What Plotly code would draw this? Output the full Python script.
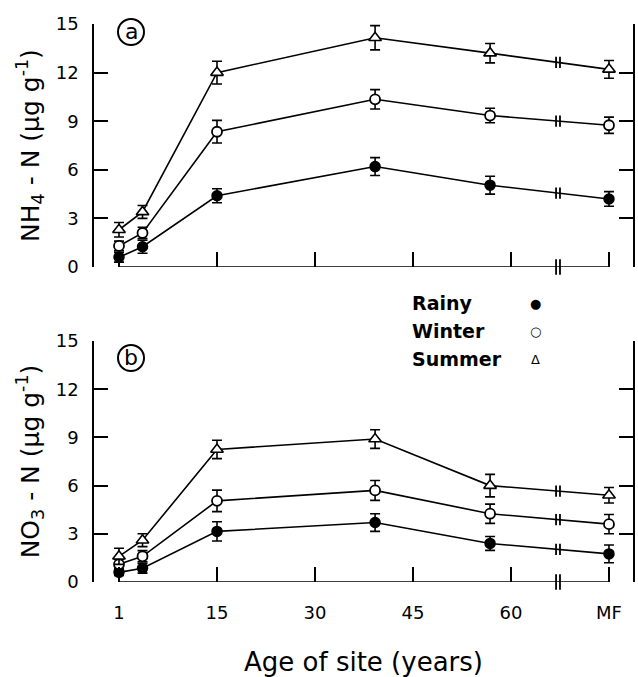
import numpy as np
import plotly.graph_objects as go
from plotly.subplots import make_subplots

# ---------------- data ----------------
site_x = [0, 3.6, 15, 39.2, 56.8, 75]           # plotting positions of sites
tick_vals = [0, 15, 30, 45, 60, 75]
tick_text = ["1", "15", "30", "45", "60", "MF"]
BREAK_X = 67.2

nh4_rainy = [0.6, 1.25, 4.4, 6.2, 5.05, 4.2]
nh4_rainy_err = [0.3, 0.4, 0.43, 0.55, 0.55, 0.45]
nh4_winter = [1.3, 2.1, 8.35, 10.35, 9.35, 8.75]
nh4_winter_err = [0.3, 0.35, 0.7, 0.6, 0.45, 0.5]
nh4_summer = [2.3, 3.4, 12.0, 14.15, 13.2, 12.2]
nh4_summer_err = [0.45, 0.4, 0.7, 0.75, 0.6, 0.55]

no3_rainy = [0.6, 0.85, 3.15, 3.7, 2.4, 1.75]
no3_rainy_err = [0.2, 0.3, 0.6, 0.55, 0.43, 0.55]
no3_winter = [1.1, 1.6, 5.05, 5.7, 4.25, 3.6]
no3_winter_err = [0.3, 0.35, 0.67, 0.62, 0.6, 0.6]
no3_summer = [1.6, 2.6, 8.25, 8.9, 6.0, 5.4]
no3_summer_err = [0.5, 0.4, 0.57, 0.58, 0.7, 0.48]

season_names = ["Rainy", "Winter", "Summer"]
season_symbols = ["●", "○", "Δ"]

FONT = "DejaVu Sans"
W, H = 638, 677
ML, MR, MT, MB = 94, 5, 24, 95
PW, PH = W - ML - MR, H - MT - MB

def py(pix):  # pixel-from-top -> paper fraction
    return (H - MB - pix) / PH

def px(pix):
    return (pix - ML) / PW

fig = make_subplots(rows=2, cols=1, shared_xaxes=False, vertical_spacing=0.1)

styles = {
    "Rainy": dict(symbol="circle", size=10, color="black", line=dict(color="black", width=1.5)),
    "Winter": dict(symbol="circle", size=10, color="white", line=dict(color="black", width=1.8)),
    "Summer": dict(symbol="triangle-up", size=11, color="white", line=dict(color="black", width=1.6)),
}

panels = [
    (1, [("Rainy", nh4_rainy, nh4_rainy_err), ("Winter", nh4_winter, nh4_winter_err),
         ("Summer", nh4_summer, nh4_summer_err)]),
    (2, [("Rainy", no3_rainy, no3_rainy_err), ("Winter", no3_winter, no3_winter_err),
         ("Summer", no3_summer, no3_summer_err)]),
]

for row, series in panels:
    for name, vals, errs in series:
        fig.add_trace(go.Scatter(
            x=site_x, y=vals, mode="lines+markers", name=name,
            line=dict(color="black", width=1.6),
            marker=styles[name],
            error_y=dict(type="data", array=errs, color="black", thickness=1.6, width=5),
            cliponaxis=False, showlegend=False,
        ), row=row, col=1)
        yb = float(np.interp(BREAK_X, site_x, vals))
        fig.add_trace(go.Scatter(
            x=[BREAK_X - 0.3, BREAK_X + 0.3], y=[yb, yb], mode="markers",
            marker=dict(symbol="line-ns", size=8, line=dict(color="black", width=1.8)),
            showlegend=False, hoverinfo="skip", cliponaxis=False,
        ), row=row, col=1)
    # break on axis
    fig.add_trace(go.Scatter(
        x=[BREAK_X - 0.3, BREAK_X + 0.3], y=[0, 0], mode="markers",
        marker=dict(symbol="line-ns", size=11, line=dict(color="black", width=1.8)),
        showlegend=False, hoverinfo="skip", cliponaxis=False,
    ), row=row, col=1)

SCALE = 6.533
X0PIX = 119
xrange = [(ML - X0PIX) / SCALE, (W - MR - X0PIX) / SCALE]

top_dom = [py(267), py(24)]
bot_dom = [py(582), py(341)]

common_x = dict(range=xrange, tickvals=tick_vals, ticktext=tick_text, ticks="inside",
                ticklen=15, tickwidth=1.6, tickcolor="black", showline=False,
                showgrid=False, zeroline=False, domain=[0, 1], automargin=False)
fig.update_xaxes(**common_x, showticklabels=False, row=1, col=1)
fig.update_xaxes(**common_x, showticklabels=True, row=2, col=1,
                 tickfont=dict(family=FONT, size=18, color="black"), ticklabelstandoff=18,
                 title=dict(text="Age of site (years)",
                            font=dict(family=FONT, size=26, color="black"),
                            standoff=30))

common_y = dict(range=[0, 15], tickvals=[0, 3, 6, 9, 12, 15], ticks="inside", ticklen=14,
                tickwidth=1.6, tickcolor="black", showline=True, linecolor="black", linewidth=1.6,
                mirror="ticks", showgrid=False, zeroline=False, automargin=False,
                tickfont=dict(family=FONT, size=18, color="black"), ticklabelstandoff=10)
fig.update_yaxes(**common_y, domain=top_dom, row=1, col=1,
                 title=dict(text="NH<sub>4</sub> - N (µg g<sup>-1</sup>)",
                            font=dict(family=FONT, size=25, color="black"),
                            standoff=9))
fig.update_yaxes(**common_y, domain=bot_dom, row=2, col=1,
                 title=dict(text="NO<sub>3</sub> - N (µg g<sup>-1</sup>)",
                            font=dict(family=FONT, size=25, color="black"),
                            standoff=9))

# x axis baselines (from first site to MF)
for xr, yr in [("x", "y"), ("x2", "y2")]:
    fig.add_shape(type="line", xref=xr, yref=yr, x0=tick_vals[0], x1=tick_vals[-1], y0=0, y1=0,
                  line=dict(color="black", width=1.6))

# panel labels
for cy, lab in [(32, "a"), (358, "b")]:
    cx = 131
    r = 13
    fig.add_shape(type="circle", xref="paper", yref="paper",
                  x0=px(cx - r), x1=px(cx + r), y0=py(cy + r), y1=py(cy - r),
                  line=dict(color="black", width=2))
    fig.add_annotation(x=px(cx), y=py(cy), xref="paper", yref="paper", text=lab,
                       showarrow=False, font=dict(family=FONT, size=22, color="black"),
                       xanchor="center", yanchor="middle", yshift=1)

# legend text
for i, (nm, sym) in enumerate(zip(season_names, season_symbols)):
    yy = 303 + 28 * i
    fig.add_annotation(x=px(410), y=py(yy), xref="paper", yref="paper", text=nm,
                       showarrow=False, xanchor="left", yanchor="middle",
                       font=dict(family=FONT, size=19, color="black", weight="bold"))
    fig.add_annotation(x=px(535), y=py(yy), xref="paper", yref="paper", text=sym,
                       showarrow=False, xanchor="center", yanchor="middle",
                       font=dict(family=FONT, size=13, color="black"))

fig.update_layout(width=W, height=H, margin=dict(l=ML, r=MR, t=MT, b=MB),
                  plot_bgcolor="white", paper_bgcolor="white", showlegend=False)

fig.write_html("out.html", config={"displayModeBar": False},
               post_script="document.body.style.margin='0';")
